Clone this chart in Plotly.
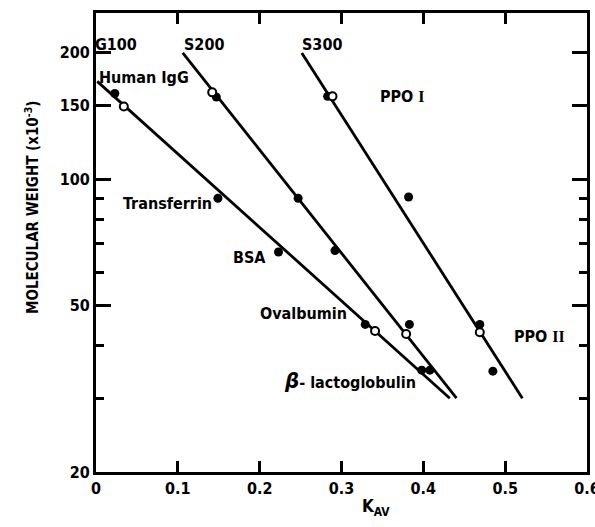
import numpy as np
import plotly.graph_objects as go

# ---------------- data ----------------
# Standard proteins (filled) and PPO (open) on each column
g100_std_kav = [0.023, 0.149, 0.223, 0.329, 0.398]
g100_std_mw = [160, 90, 67, 45, 35]
g100_ppo_kav = [0.034, 0.341]
g100_ppo_mw = [149, 43.4]

s200_std_kav = [0.147, 0.247, 0.292, 0.383, 0.408]
s200_std_mw = [157, 90, 67.5, 45, 35]
s200_ppo_kav = [0.142, 0.379]
s200_ppo_mw = [161, 42.7]

s300_std_kav = [0.283, 0.382, 0.469, 0.485]
s300_std_mw = [157.5, 90.6, 45, 34.8]
s300_ppo_kav = [0.289, 0.469]
s300_ppo_mw = [157.5, 43.1]

# calibration lines (end points)
g100_line_kav = [0.0015, 0.4323]
g100_line_mw = [171, 30]
s200_line_kav = [0.106, 0.4405]
s200_line_mw = [200, 30]
s300_line_kav = [0.2515, 0.521]
s300_line_mw = [200, 30]

x_ticks = [0, 0.1, 0.2, 0.3, 0.4, 0.5, 0.6]
x_ticklabels = ["0", "0.1", "0.2", "0.3", "0.4", "0.5", "0.6"]
y_major = [20, 50, 100, 150, 200]
y_minor = [30, 40, 60, 70, 80, 90]

labels = [
    ("G100", 0.025, 210),
    ("S200", 0.132, 210),
    ("S300", 0.276, 210),
    ("Human IgG", 0.059, 175),
    ("Transferrin", 0.087, 87.5),
    ("BSA", 0.188, 65),
    ("Ovalbumin", 0.253, 47.9),
    ("<span style='font-size:22px'><i>β</i></span>- lactoglobulin", 0.31, 33.1),
    ("PPO <span style='font-family:Liberation Serif'>I</span>", 0.374, 157),
    ("PPO <span style='font-family:Liberation Serif'>II</span>", 0.5415, 42.1),
]

FONT = "Liberation Sans Narrow, DejaVu Sans Condensed, Arial Narrow, sans-serif"

fig = go.Figure()

for kx, ky in [(g100_line_kav, g100_line_mw), (s200_line_kav, s200_line_mw), (s300_line_kav, s300_line_mw)]:
    fig.add_trace(go.Scatter(x=kx, y=ky, mode="lines", line=dict(color="black", width=2.8),
                             showlegend=False, hoverinfo="skip"))

for kx, ky in [(g100_std_kav, g100_std_mw), (s200_std_kav, s200_std_mw), (s300_std_kav, s300_std_mw)]:
    fig.add_trace(go.Scatter(x=kx, y=ky, mode="markers",
                             marker=dict(color="black", size=9, line=dict(width=0)),
                             showlegend=False))

for kx, ky in [(g100_ppo_kav, g100_ppo_mw), (s200_ppo_kav, s200_ppo_mw), (s300_ppo_kav, s300_ppo_mw)]:
    fig.add_trace(go.Scatter(x=kx, y=ky, mode="markers",
                             marker=dict(color="white", size=8, line=dict(color="black", width=2)),
                             showlegend=False))

# invisible traces to hold the minor-tick axes (left and right)
for ax in ["y2", "y3"]:
    fig.add_trace(go.Scatter(x=[0.0], y=[100], xaxis="x", yaxis=ax, mode="markers",
                             marker=dict(opacity=0), showlegend=False, hoverinfo="skip"))

for text, lx, ly in labels:
    fig.add_annotation(x=lx, y=np.log10(ly), xref="x", yref="y", text=text, showarrow=False,
                       font=dict(family=FONT, size=16, color="black", weight="bold"),
                       xanchor="center", yanchor="middle")

fig.add_annotation(xref="paper", yref="paper", x=-64 / 491, y=(472 - 208) / 459,
                   text="MOLECULAR WEIGHT (x10<sup>-3</sup>)", textangle=-90, showarrow=False,
                   font=dict(family=FONT, size=15, color="black", weight="bold"),
                   xanchor="center", yanchor="middle")
fig.add_annotation(xref="paper", yref="paper", x=(376 - 96) / 491, y=-(507 - 472) / 459,
                   text="K<sub>AV</sub>", showarrow=False,
                   font=dict(family=FONT, size=17, color="black", weight="bold"),
                   xanchor="center", yanchor="middle")

yrange = [np.log10(20), np.log10(249)]
minor_axis = dict(type="log", range=yrange, overlaying="y", anchor="x",
                  tickmode="array", tickvals=y_minor, showticklabels=False,
                  ticks="inside", ticklen=8, tickwidth=2.5, tickcolor="black",
                  showline=False, showgrid=False, zeroline=False, automargin=False)
fig.update_layout(
    width=595, height=527,
    margin=dict(l=96, r=8, t=13, b=55, autoexpand=False),
    paper_bgcolor="white", plot_bgcolor="white",
    font=dict(family=FONT, color="black"),
    xaxis=dict(range=[0, 0.6], tickmode="array", tickvals=x_ticks, ticktext=x_ticklabels,
               showline=True, linecolor="black", linewidth=3, mirror="ticks",
               ticks="inside", ticklen=11, tickwidth=3, tickcolor="black",
               showgrid=False, zeroline=False, ticklabeloverflow="allow", automargin=False,
               tickfont=dict(family=FONT, size=16, color="black", weight="bold")),
    yaxis=dict(type="log", range=yrange, tickmode="array",
               tickvals=y_major, ticktext=[str(v) for v in y_major],
               showline=True, linecolor="black", linewidth=3, mirror="ticks",
               ticks="inside", ticklen=15, tickwidth=3, tickcolor="black",
               showgrid=False, zeroline=False, ticklabeloverflow="allow", automargin=False,
               tickfont=dict(family=FONT, size=16, color="black", weight="bold")),
    yaxis2=dict(minor_axis, side="left"),
    yaxis3=dict(minor_axis, side="right"),
)

fig.write_html("out.html")
